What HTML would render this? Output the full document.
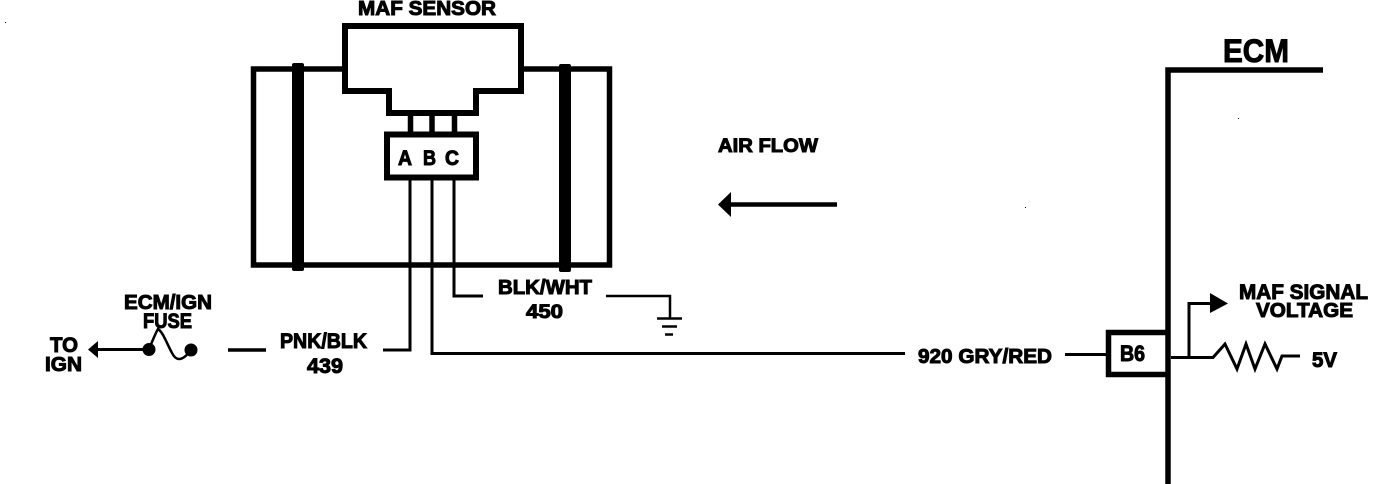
<!DOCTYPE html>
<html><head><meta charset="utf-8"><style>
html,body{margin:0;padding:0;background:#fff;width:1392px;height:484px;overflow:hidden}
svg{display:block}
text{font-family:"Liberation Sans",sans-serif;font-weight:bold;fill:#000;stroke:#000;stroke-width:1}
</style></head><body>
<svg width="1392" height="484" viewBox="0 0 1392 484" xmlns="http://www.w3.org/2000/svg">
<rect width="1392" height="484" fill="#fff"/>
<g fill="none" stroke="#000" stroke-linejoin="miter">
 <!-- body -->
 <path d="M342 69H253.500V265H609.500V69H524" stroke-width="5.500"/>
 <rect x="292" y="63" width="12" height="208" rx="2" fill="#000" stroke="none"/>
 <rect x="559" y="64" width="12" height="208" rx="2" fill="#000" stroke="none"/>
 <!-- sensor head -->
 <path d="M345 26H521V91H476V113H389V91H345Z" fill="#fff" stroke-width="6"/>
 <!-- pins -->
 <path d="M410.500 116V132M432 116V132M454.500 116V132" stroke-width="5.500"/>
 <!-- connector -->
 <rect x="387" y="134.500" width="89" height="43" fill="#fff" stroke-width="6"/>
 <!-- wires -->
 <path d="M410 180V350H383" stroke-width="3"/>
 <path d="M432 180V353.500H905" stroke-width="3"/>
 <path d="M454 180V296H483" stroke-width="3"/>
 <path d="M606 296H670V318" stroke-width="2.500"/>
 <path d="M657 318.500H682M662 326.500H677M665 334.500H673" stroke-width="2.500"/>
 <!-- air flow arrow -->
 <path d="M730 204.500H837" stroke-width="4.500"/>
 <!-- fuse -->
 <path d="M95 349.500H150" stroke-width="3"/>
 <path d="M149 349C153 340 155 334 158 329C163 332 167 344 172 353C176 361 182 362 191 350" stroke-width="2.500"/>
 <path d="M228 350H266" stroke-width="3.500"/>
 <!-- ECM -->
 <path d="M1168 484V70H1323" stroke-width="5.500"/>
 <path d="M1168 332.500H1108.500V374.500H1168" stroke-width="5.500"/>
 <path d="M1065 354.500H1106" stroke-width="3"/>
 <path d="M1171 357.500H1213L1225 344L1237 369L1246 344L1255 369L1265 344L1277 369L1282 356H1300" stroke-width="3"/>
 <path d="M1189 357V303.500H1211" stroke-width="3"/>
</g>
<g fill="#000" stroke="none">
 <path d="M718 204.500L731 192V217Z"/>
 <path d="M88 349.500L98 341V358Z"/>
 <circle cx="149" cy="349.500" r="6.500"/>
 <circle cx="191" cy="350" r="6.500"/>
 <path d="M1210 293L1228 303.500L1210 313Z"/>
 <rect x="1238" y="118" width="1" height="1"/>
 <rect x="1025" y="207" width="1" height="1"/>
 <rect x="5" y="22" width="1" height="1"/>
</g>
<text x="358" y="15" font-size="20" textLength="138" lengthAdjust="spacingAndGlyphs">MAF SENSOR</text>
<text x="398" y="165" font-size="21" textLength="14" lengthAdjust="spacingAndGlyphs">A</text>
<text x="423" y="165" font-size="21" textLength="13" lengthAdjust="spacingAndGlyphs">B</text>
<text x="445" y="165" font-size="21" textLength="14" lengthAdjust="spacingAndGlyphs">C</text>
<text x="718" y="152" font-size="19" textLength="100" lengthAdjust="spacingAndGlyphs">AIR FLOW</text>
<text x="1223" y="62" font-size="32" textLength="66" lengthAdjust="spacingAndGlyphs">ECM</text>
<text x="124" y="309" font-size="20" textLength="88" lengthAdjust="spacingAndGlyphs">ECM/IGN</text>
<text x="143" y="328" font-size="21" textLength="49" lengthAdjust="spacingAndGlyphs">FUSE</text>
<text x="50" y="352" font-size="21" textLength="28" lengthAdjust="spacingAndGlyphs">TO</text>
<text x="45" y="371" font-size="20" textLength="37" lengthAdjust="spacingAndGlyphs">IGN</text>
<text x="280" y="348" font-size="21" textLength="87" lengthAdjust="spacingAndGlyphs">PNK/BLK</text>
<text x="307" y="373" font-size="21" textLength="36" lengthAdjust="spacingAndGlyphs">439</text>
<text x="498" y="294" font-size="20" textLength="94" lengthAdjust="spacingAndGlyphs">BLK/WHT</text>
<text x="526" y="318" font-size="19" textLength="37" lengthAdjust="spacingAndGlyphs">450</text>
<text x="918" y="363" font-size="20" textLength="134" lengthAdjust="spacingAndGlyphs">920 GRY/RED</text>
<text x="1120" y="361" font-size="22" textLength="25" lengthAdjust="spacingAndGlyphs">B6</text>
<text x="1239" y="299" font-size="21" textLength="129" lengthAdjust="spacingAndGlyphs">MAF SIGNAL</text>
<text x="1256" y="317" font-size="20" textLength="97" lengthAdjust="spacingAndGlyphs">VOLTAGE</text>
<text x="1312" y="367" font-size="21" textLength="25" lengthAdjust="spacingAndGlyphs">5V</text>
</svg>
</body></html>
